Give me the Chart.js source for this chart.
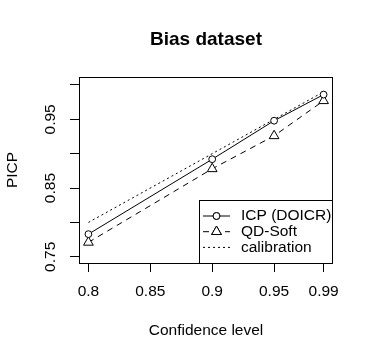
<!DOCTYPE html>
<html>
<head>
<meta charset="utf-8">
<script src="https://cdn.jsdelivr.net/npm/chart.js@4"></script>
<style>
  html, body { margin: 0; padding: 0; background: #fff; }
  #wrap { width: 373px; height: 361px; }
</style>
</head>
<body>
<div id="wrap"><canvas id="biasChart" width="373" height="361"></canvas></div>
<script>
const confLevels = [0.8, 0.9, 0.95, 0.99];
const icpValues = [0.783, 0.892, 0.948, 0.986];
const qdSoftValues = [0.771, 0.878, 0.926, 0.977];
const calibrationValues = [0.8, 0.9, 0.95, 0.99];
const xTicks = [0.8, 0.85, 0.9, 0.95, 0.99];
const yTicks = [0.75, 0.8, 0.85, 0.9, 0.95, 1.0];
const yTickLabels = ['0.75', '', '0.85', '', '0.95', ''];
const seriesNames = ['ICP (DOICR)', 'QD-Soft', 'calibration'];
const chartTitle = 'Bias dataset';

const FONT = '"Liberation Sans", Arial, sans-serif';

function toPoints(values) {
    return confLevels.map((c, i) => ({x: c, y: values[i]}));
}

// box around plot area, title, rotated y labels, legend (R style)
const rStylePlugin = {
    id: 'rStyle',
    afterDraw(chart) {
        const ctx = chart.ctx;
        const a = chart.chartArea;
        const yScale = chart.scales.y;
        ctx.save();
        ctx.strokeStyle = '#000';
        ctx.lineWidth = 1;
        ctx.setLineDash([]);
        ctx.strokeRect(a.left + 0.5, a.top + 0.5, a.right - a.left - 1, a.bottom - a.top);

        // title centred over the plot region
        ctx.fillStyle = '#000';
        ctx.font = 'bold 19px ' + FONT;
        ctx.textAlign = 'center';
        ctx.textBaseline = 'middle';
        ctx.fillText(chartTitle, (a.left + a.right) / 2, 40);

        // rotated y tick labels
        ctx.font = '15.5px ' + FONT;
        yTicks.forEach((v, i) => {
            if (!yTickLabels[i]) return;
            const py = yScale.getPixelForValue(v);
            ctx.save();
            ctx.translate(51, py);
            ctx.rotate(-Math.PI / 2);
            ctx.fillText(yTickLabels[i], 0, 0);
            ctx.restore();
        });

        // legend box in bottom right
        const boxW = 134, boxH = 63;
        const bx = a.right - boxW, by = a.bottom - boxH;
        ctx.fillStyle = '#fff';
        ctx.fillRect(bx, by, boxW, boxH);
        ctx.strokeRect(bx + 0.5, by + 0.5, boxW - 1, boxH);
        ctx.fillStyle = '#000';
        ctx.textAlign = 'left';
        chart.data.datasets.forEach((ds, i) => {
            const ry = by + 16 + i * 15.7;
            ctx.setLineDash(ds.borderDash || []);
            ctx.beginPath();
            ctx.moveTo(bx + 4, ry);
            ctx.lineTo(bx + 31, ry);
            ctx.stroke();
            ctx.setLineDash([]);
            if (ds.pointRadius > 0) {
                Chart.helpers.drawPoint(ctx, {
                    pointStyle: ds.pointStyle,
                    radius: ds.pointRadius,
                    borderWidth: 1
                }, bx + 17.5, ry);
                ctx.fillStyle = '#fff';
                ctx.fill();
                ctx.stroke();
                ctx.fillStyle = '#000';
            }
            ctx.fillText(ds.label, bx + 42, ry);
        });
        ctx.restore();
    }
};

const config = {
    type: 'line',
    data: {
        datasets: [{
            label: seriesNames[0],
            data: toPoints(icpValues),
            borderColor: '#000',
            backgroundColor: '#fff',
            borderWidth: 1,
            pointStyle: 'circle',
            pointRadius: 3.4,
            pointBorderWidth: 1,
            borderDash: []
        }, {
            label: seriesNames[1],
            data: toPoints(qdSoftValues),
            borderColor: '#000',
            backgroundColor: '#fff',
            borderWidth: 1,
            pointStyle: 'triangle',
            pointRadius: 5.6,
            pointBorderWidth: 1,
            borderDash: [6, 5]
        }, {
            label: seriesNames[2],
            data: toPoints(calibrationValues),
            borderColor: '#000',
            borderWidth: 1,
            pointRadius: 0,
            borderDash: [2, 3]
        }]
    },
    options: {
        responsive: false,
        animation: false,
        layout: { padding: { left: 0, right: 40, top: 77, bottom: 0 } },
        plugins: {
            legend: { display: false },
            tooltip: { enabled: false },
            title: { display: false }
        },
        scales: {
            x: {
                type: 'linear',
                min: 0.7924,
                max: 0.9976,
                afterBuildTicks: (scale) => {
                    scale.ticks = xTicks.map(v => ({value: v}));
                },
                afterFit: (scale) => { scale.height = 98; },
                grid: { drawOnChartArea: false, drawTicks: true, tickLength: 9, color: '#000' },
                border: { display: false },
                ticks: {
                    color: '#000',
                    padding: 10,
                    maxRotation: 0,
                    autoSkip: false,
                    font: { family: FONT, size: 15.5 },
                    callback: (v) => String(v)
                },
                title: {
                    display: true,
                    text: 'Confidence level',
                    color: '#000',
                    font: { family: FONT, size: 15.5 },
                    padding: { top: 0, bottom: 20.5 }
                }
            },
            y: {
                type: 'linear',
                min: 0.741,
                max: 1.0116,
                afterBuildTicks: (scale) => {
                    scale.ticks = yTicks.map(v => ({value: v}));
                },
                afterFit: (scale) => { scale.width = 79; },
                grid: { drawOnChartArea: false, drawTicks: true, tickLength: 9, color: '#000' },
                border: { display: false },
                ticks: { display: false },
                title: {
                    display: true,
                    text: 'PICP',
                    color: '#000',
                    font: { family: FONT, size: 15.5 },
                    padding: { top: 3.7, bottom: 0 }
                }
            }
        }
    },
    plugins: [rStylePlugin]
};

const biasChart = new Chart(document.getElementById('biasChart'), config);
</script>
</body>
</html>
